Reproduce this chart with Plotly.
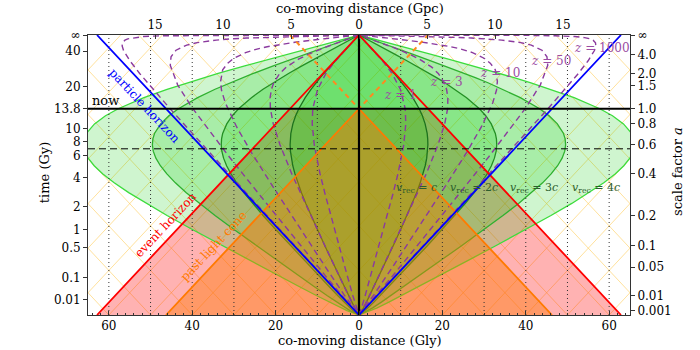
import plotly.graph_objects as go

# ---------------- values (conformal time eta and comoving distance chi, in Gly) ----------------
ETA_INF = 62.84   # conformal time at t = infinity
ETA_NOW = 46.29   # conformal time today (t = 13.8 Gy)
ETA_ACC = 37.3    # dashed line

time_labels = ["∞", "40", "20", "13.8", "10", "8", "6", "4", "2", "1", "0.5", "0.1", "0.01"]
time_eta = [62.84, 59.2, 51.3, 46.29, 41.8, 38.95, 35.7, 30.9, 24.35, 19.2, 15.07, 8.45, 3.45]

a_labels = ["∞", "4.0", "2.0", "1.5", "1.0", "0.8", "0.6", "0.4", "0.2", "0.1", "0.05", "0.01", "0.001"]
a_eta = [62.84, 58.49, 54.21, 51.43, 46.29, 42.89, 38.19, 31.67, 22.33, 15.55, 10.76, 4.38, 0.98]

gly_ticks = [-60, -40, -20, 0, 20, 40, 60]
gly_labels = ["60", "40", "20", "0", "20", "40", "60"]
gpc_ticks = [-48.92, -32.62, -16.31, 0, 16.31, 32.62, 48.92]
gpc_labels = ["15", "10", "5", "0", "5", "10", "15"]

dotted_chi = [-60, -50, -40, -30, -20, -10, 10, 20, 30, 40, 50, 60]
grid_offsets = [-130, -120, -110, -100, -90, -80, -70, -60, -50, -40, -30, -20, -10, 0,
                10, 20, 30, 40, 50, 60, 70, 80, 90, 100, 110, 120, 130]

# Hubble-sphere family (v_rec = n c): conformal time and comoving distance
hub_eta = [0, 0.98, 1.60, 2.89, 4.38, 6.51, 8.15, 10.76, 12.89, 15.55, 19.24, 22.33, 25.04, 27.46,
           29.66, 31.67, 33.50, 35.20, 36.76, 38.19, 39.52, 40.74, 42.89, 44.72, 46.29, 48.78,
           50.66, 52.12, 53.27, 54.21, 55.91, 57.05, 58.49, 59.36, 60.36, 61.10, 61.97, 62.49,
           62.67, 62.84]
v1_chi = [0, 0.72, 1.09, 1.79, 2.56, 3.65, 4.48, 5.79, 6.86, 8.20, 10.02, 11.51, 12.76, 13.81,
          14.68, 15.36, 15.88, 16.24, 16.45, 16.52, 16.48, 16.35, 15.86, 15.20, 14.44, 12.90,
          11.51, 10.31, 9.30, 8.45, 6.85, 5.74, 4.33, 3.47, 2.48, 1.74, 0.87, 0.35, 0.17, 0]
v2_chi = [0, 1.44, 2.18, 3.58, 5.12, 7.30, 8.96, 11.58, 13.72, 16.40, 20.04, 23.02, 25.52, 27.62,
          29.36, 30.72, 31.76, 32.48, 32.90, 33.04, 32.96, 32.70, 31.72, 30.40, 28.88, 25.80,
          23.02, 20.62, 18.60, 16.90, 13.70, 11.48, 8.66, 6.94, 4.96, 3.48, 1.74, 0.70, 0.34, 0]
v3_chi = [0, 2.16, 3.27, 5.37, 7.68, 10.95, 13.44, 17.37, 20.58, 24.60, 30.06, 34.53, 38.28, 41.43,
          44.04, 46.08, 47.64, 48.72, 49.35, 49.56, 49.44, 49.05, 47.58, 45.60, 43.32, 38.70,
          34.53, 30.93, 27.90, 25.35, 20.55, 17.22, 12.99, 10.41, 7.44, 5.22, 2.61, 1.05, 0.51, 0]
v4_chi = [0, 2.88, 4.36, 7.16, 10.24, 14.60, 17.92, 23.16, 27.44, 32.80, 40.08, 46.04, 51.04, 55.24,
          58.72, 61.44, 63.52, 64.96, 65.80, 66.08, 65.92, 65.40, 63.44, 60.80, 57.76, 51.60,
          46.04, 41.24, 37.20, 33.80, 27.40, 22.96, 17.32, 13.88, 9.92, 6.96, 3.48, 1.40, 0.68, 0]

# constant-redshift curves
z1_eta = [0, 1.60, 4.38, 10.76, 15.55, 22.33, 27.46, 31.67, 35.20, 38.19, 42.89, 46.29, 50.66,
          54.21, 57.05, 58.49, 60.36, 61.10, 61.97, 62.49, 62.84]
z1_chi = [0, 0.62, 1.49, 3.39, 4.79, 6.78, 8.22, 9.34, 10.16, 10.73, 11.22, 11.09, 9.92,
          7.93, 5.62, 4.28, 2.49, 1.74, 0.87, 0.35, 0]
z3_eta = [0, 2.51, 6.51, 15.55, 22.33, 31.67, 38.19, 42.89, 46.29, 48.78, 50.66, 52.12, 54.21,
          55.63, 57.41, 58.49, 59.94, 60.67, 61.39, 61.75, 62.40, 62.75, 62.84]
z3_chi = [0, 1.54, 3.62, 8.18, 11.57, 16.12, 18.95, 20.56, 21.25, 21.32, 21.00, 20.45, 19.01,
          17.44, 14.52, 12.21, 8.51, 6.46, 4.34, 3.26, 1.30, 0.26, 0]
z10_eta = [0, 4.63, 11.33, 16.35, 23.45, 28.79, 36.76, 42.26, 47.63, 50.48, 52.43, 55.03, 56.52,
           57.57, 58.89, 59.68, 60.21, 60.86, 61.26, 61.78, 62.05, 62.31, 62.44, 62.68, 62.81, 62.84]
z10_chi = [0, 3.65, 8.44, 11.97, 16.94, 20.64, 26.00, 29.37, 32.08, 32.99, 33.19, 32.70, 31.48,
           30.11, 27.22, 24.48, 22.02, 17.97, 14.97, 10.35, 7.84, 5.26, 3.95, 1.58, 0.32, 0]
z50_eta = [0, 2.93, 7.45, 10.88, 17.12, 25.29, 35.52, 46.57, 51.65, 56.03, 57.97, 59.43, 60.57,
           61.13, 61.70, 61.99, 62.16, 62.27, 62.41, 62.50, 62.61, 62.67, 62.72, 62.75, 62.80, 62.84]
z50_chi = [0, 2.79, 6.88, 9.90, 15.34, 22.40, 31.14, 40.06, 43.50, 45.27, 45.08, 43.88, 41.33,
           38.80, 34.24, 30.32, 26.96, 24.08, 19.52, 16.21, 11.18, 8.46, 5.67, 4.26, 1.70, 0]
z1000_eta = [0, 0.98, 4.38, 15.55, 27.46, 38.19, 46.30, 54.21, 57.05, 59.36, 60.36, 61.10, 61.68,
             61.97, 62.26, 62.49, 62.67, 62.75, 62.78, 62.80, 62.82, 62.83, 62.833, 62.84]
z1000_chi = [0, 0.98, 4.37, 15.41, 27.09, 37.53, 45.32, 52.61, 54.96, 56.47, 56.81, 56.72, 56.14,
             55.46, 54.10, 51.73, 47.12, 40.42, 35.32, 27.60, 16.55, 8.62, 4.34, 0]

# ---------------- figure ----------------
FONT = "DejaVu Serif"
fig = go.Figure()


def mirrored(chi, eta):
    xs = list(chi) + [-c for c in reversed(chi)]
    ys = list(eta) + list(reversed(eta))
    return xs, ys


def add_line(xs, ys, color, width, dash="solid"):
    fig.add_trace(go.Scatter(x=xs, y=ys, mode="lines", hoverinfo="skip",
                             line=dict(color=color, width=width, dash=dash)))


def add_fill(xs, ys, fillcolor, linecolor="rgba(0,0,0,0)", width=0):
    fig.add_trace(go.Scatter(x=xs, y=ys, mode="lines", fill="toself", fillcolor=fillcolor,
                             line=dict(color=linecolor, width=width), hoverinfo="skip"))


# light-cone grid
gx, gy = [], []
for c in grid_offsets:
    gx += [c, c + ETA_INF, None, c, c - ETA_INF, None]
    gy += [0, ETA_INF, None, 0, ETA_INF, None]
add_line(gx, gy, "rgba(255,205,90,0.6)", 1)

# event horizon region below now (pink)
d_now = ETA_INF - ETA_NOW
add_fill([-ETA_INF, ETA_INF, d_now, -d_now, -ETA_INF], [0, 0, ETA_NOW, ETA_NOW, 0], "rgba(255,0,0,0.30)")

# Hubble spheres
green_fill = "rgba(0,200,0,0.19)"
for chi, lc in [(v4_chi, "#3ddc3d"), (v3_chi, "#2fb02f"), (v2_chi, "#248f24"), (v1_chi, "#1d721d")]:
    xs, ys = mirrored(chi, hub_eta)
    add_fill(xs, ys, green_fill, lc, 1.3)

# past light cone region (orange)
add_fill([-ETA_NOW, ETA_NOW, 0, -ETA_NOW], [0, 0, ETA_NOW, 0], "rgba(255,120,0,0.42)")

# comoving worldlines (dotted)
dx, dy = [], []
for c in dotted_chi:
    dx += [c, c, None]
    dy += [0, ETA_INF, None]
add_line(dx, dy, "#333333", 1, "1px,3px")

# constant redshift curves
for chi, eta in [(z1_chi, z1_eta), (z3_chi, z3_eta), (z10_chi, z10_eta), (z50_chi, z50_eta),
                 (z1000_chi, z1000_eta)]:
    xs = [-c for c in reversed(chi)] + [None] + list(chi)
    ys = list(reversed(eta)) + [None] + list(eta)
    add_line(xs, ys, "#8b3a9e", 1.4, "6px,4px")

# future light cone (dashed orange)
add_line([-d_now, 0, d_now], [ETA_INF, ETA_NOW, ETA_INF], "#ff8a1e", 2, "5px,4px")
# past light cone
add_line([-ETA_NOW, 0, ETA_NOW], [0, ETA_NOW, 0], "#ff7a00", 1.8)
# event horizon
add_line([-ETA_INF, 0, ETA_INF], [0, ETA_INF, 0], "#ff0000", 1.8)
# particle horizon
add_line([-ETA_INF, 0, ETA_INF], [ETA_INF, 0, ETA_INF], "#0000ff", 1.8)
# now and acceleration lines, our worldline
add_line([-65, 65], [ETA_NOW, ETA_NOW], "black", 2.2)
add_line([-65, 65], [ETA_ACC, ETA_ACC], "black", 1, "7px,4px")
add_line([0, 0], [0, ETA_INF], "black", 2.2)

# secondary-axis anchor trace (invisible)
fig.add_trace(go.Scatter(x=[0], y=[0], xaxis="x2", yaxis="y2", mode="markers",
                         marker=dict(opacity=0), hoverinfo="skip"))

annotations = [
    dict(x=-64.6, y=ETA_NOW, text="now", xanchor="left", yanchor="bottom", yshift=-1,
         font=dict(family=FONT, size=13, color="black")),
    dict(x=-51.4, y=46.9, text="particle horizon", textangle=46.9,
         font=dict(family=FONT, size=12, color="#0000ff")),
    dict(x=-46.4, y=20.2, text="event horizon", textangle=-46.9,
         font=dict(family=FONT, size=12, color="#ff0000")),
    dict(x=-34.8, y=15.4, text="past light cone", textangle=-46.9,
         font=dict(family=FONT, size=12, color="#ff7a00")),
]
for x, txt in [(13.8, "<i>v</i><sub>rec</sub> = <i>c</i>"), (27.6, "<i>v</i><sub>rec</sub> = 2<i>c</i>"),
               (42.0, "<i>v</i><sub>rec</sub> = 3<i>c</i>"), (56.8, "<i>v</i><sub>rec</sub> = 4<i>c</i>")]:
    annotations.append(dict(x=x, y=28.5, text=txt, font=dict(family=FONT, size=11, color="#2d5e2d")))
for x, y, txt in [(9.9, 49.4, "1"), (20.9, 52.3, "3"), (33.8, 54.3, "10"), (46.0, 57.0, "50"),
                  (58.3, 59.9, "1000")]:
    annotations.append(dict(x=x, y=y, text="<i>z</i> = " + txt,
                            font=dict(family=FONT, size=12, color="#9b4da3")))
# axis titles
annotations += [
    dict(xref="paper", yref="paper", x=0.502, y=-0.09, text="co-moving distance (Gly)",
         font=dict(family=FONT, size=13, color="black")),
    dict(xref="paper", yref="paper", x=0.502, y=1.095, text="co-moving distance (Gpc)",
         font=dict(family=FONT, size=13, color="black")),
    dict(xref="paper", yref="paper", x=-0.081, y=0.507, text="time (Gy)", textangle=-90,
         font=dict(family=FONT, size=13, color="black")),
    dict(xref="paper", yref="paper", x=1.0886, y=0.511, text="scale factor <i>a</i>", textangle=-90,
         font=dict(family=FONT, size=13, color="black")),
]
for a in annotations:
    a.setdefault("showarrow", False)
    a.setdefault("xref", "x")
    a.setdefault("yref", "y")
    a.setdefault("xanchor", "center")
    a.setdefault("yanchor", "middle")

axis_common = dict(showgrid=False, zeroline=False, showline=True, linecolor="#333333", linewidth=1,
                   tickfont=dict(family=FONT, size=12, color="black"), ticklen=4, tickcolor="#333333")

fig.update_layout(
    width=700, height=350, margin=dict(l=88, r=70, t=35, b=35),
    paper_bgcolor="white", plot_bgcolor="white", showlegend=False,
    xaxis=dict(range=[-65, 65], tickvals=gly_ticks, ticktext=gly_labels, ticks="inside",
               minor=dict(dtick=2, tick0=0, ticks="inside", ticklen=2.5, tickcolor="#333333"),
               **axis_common),
    xaxis2=dict(range=[-65, 65], overlaying="x", side="top", tickvals=gpc_ticks, ticktext=gpc_labels,
                ticks="inside", **axis_common),
    yaxis=dict(range=[0, ETA_INF], tickvals=time_eta, ticktext=time_labels, ticks="outside",
               **axis_common),
    yaxis2=dict(range=[0, ETA_INF], overlaying="y", side="right", tickvals=a_eta, ticktext=a_labels,
                ticks="outside", **axis_common),
    annotations=annotations,
)

fig.write_html("out.html")
